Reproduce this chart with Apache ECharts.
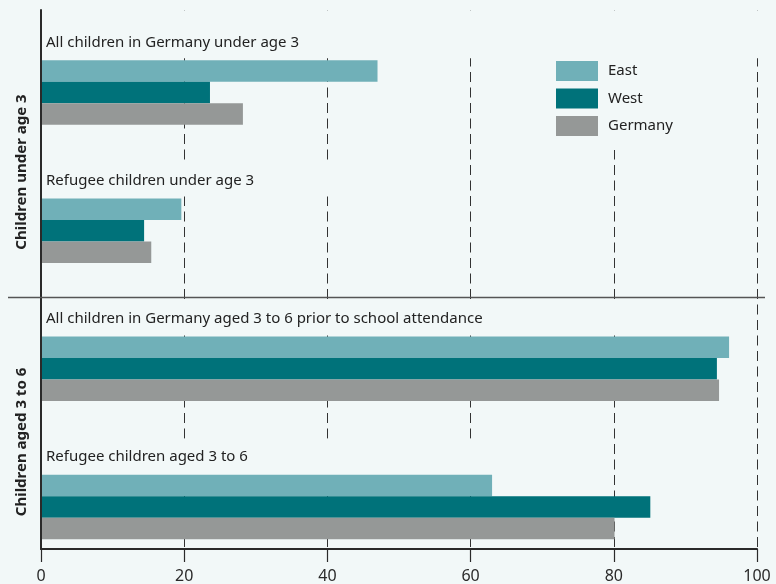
<!DOCTYPE html>
<html>
<head>
<meta charset="utf-8">
<script src="https://cdn.jsdelivr.net/npm/echarts@6/dist/echarts.min.js"></script>
<style>html,body{margin:0;padding:0;background:#f2f8f8;}#c{width:776px;height:584px;}</style>
</head>
<body>
<div id="c"></div>
<script>
// ---- data ----
const categories = [
  'All children in Germany under age 3',
  'Refugee children under age 3',
  'All children in Germany aged 3 to 6 prior to school attendance',
  'Refugee children aged 3 to 6'
];
const panelTitles = ['Children under age 3', 'Children aged 3 to 6'];
const seriesNames = ['East', 'West', 'Germany'];
const eastValues = [47, 19.6, 96.1, 63];
const westValues = [23.6, 14.4, 94.4, 85.1];
const germanyValues = [28.2, 15.4, 94.7, 80.1];
const xTicks = [0, 20, 40, 60, 80, 100];

// ---- styles ----
const BG = '#f2f8f8';
const FONT = '"Noto Sans", "Open Sans", sans-serif';
const colors = ['#70b0b8', '#00727a', '#959897'];
const labelBoxStyle = [
  { padTop: 22, width: 717 },
  { padTop: 8, width: 355 },
  { padTop: 8, width: 645 },
  { padTop: 8, width: 495 }
];

const chart = echarts.init(document.getElementById('c'), null, { renderer: 'canvas' });

const eastData = eastValues.map((v, i) => ({
  value: v,
  label: {
    padding: [labelBoxStyle[i].padTop, 0, 6, 3],
    width: labelBoxStyle[i].width
  }
}));

const allValues = [eastData, westValues, germanyValues];

const series = seriesNames.map((name, k) => ({
  name: name,
  type: 'bar',
  xAxisIndex: 0,
  yAxisIndex: 0,
  barWidth: 21.5,
  barGap: '0%',
  itemStyle: { color: colors[k] },
  emphasis: { disabled: true },
  silent: true,
  data: allValues[k],
  label: k === 0 ? {
    show: true,
    position: [2, -2],
    align: 'left',
    verticalAlign: 'bottom',
    formatter: p => categories[p.dataIndex],
    color: '#222',
    fontFamily: FONT,
    fontSize: 15,
    lineHeight: 20,
    backgroundColor: BG
  } : { show: false }
}));

const xRange = { min: xTicks[0], max: xTicks[xTicks.length - 1], interval: xTicks[1] - xTicks[0] };

chart.setOption({
  backgroundColor: BG,
  animation: false,
  textStyle: { fontFamily: FONT },
  grid: [
    { left: 41, right: 19, top: 23.4, bottom: 7.9 },
    { left: 41, right: 19, top: 10, bottom: 35 },
    { left: 41, right: 19, top: 10, bottom: 35 }
  ],
  xAxis: [
    { gridIndex: 0, type: 'value', min: 0, max: 100, show: false },
    // dashed grid lines (beneath labels / legend)
    {
      gridIndex: 1, type: 'value', z: 0, ...xRange,
      axisLine: { show: false }, axisTick: { show: false }, axisLabel: { show: false },
      splitLine: { show: true, lineStyle: { color: '#333', width: 1, type: [10, 5.5] } }
    },
    // axis line, ticks, labels (above bars)
    {
      gridIndex: 2, type: 'value', z: 5, ...xRange,
      axisLine: { show: true, onZero: false, lineStyle: { color: '#2a2a2a', width: 2 } },
      axisTick: { show: true, length: 13, lineStyle: { color: '#2a2a2a', width: 1.2 } },
      axisLabel: { color: '#2a2a2a', fontSize: 16, margin: 19, fontFamily: FONT },
      splitLine: { show: false }
    }
  ],
  yAxis: [
    { gridIndex: 0, type: 'category', data: categories, inverse: true, show: false },
    { gridIndex: 1, type: 'value', min: 0, max: 1, show: false },
    {
      gridIndex: 2, type: 'value', z: 5, min: 0, max: 1,
      axisLine: { show: true, onZero: false, lineStyle: { color: '#2a2a2a', width: 2 } },
      axisTick: { show: false }, axisLabel: { show: false }, splitLine: { show: false }
    }
  ],
  legend: {
    data: seriesNames,
    orient: 'vertical',
    left: 540,
    top: 55,
    padding: [6, 30, 14, 16],
    itemWidth: 42,
    itemHeight: 20,
    itemGap: 7.5,
    icon: 'rect',
    backgroundColor: BG,
    textStyle: { color: '#222', fontSize: 15, fontFamily: FONT, padding: [0, 0, 0, 5] },
    selectedMode: false
  },
  graphic: [
    {
      type: 'line', z: 10,
      shape: { x1: 8, y1: 297.5, x2: 765, y2: 297.5 },
      style: { stroke: '#555', lineWidth: 1.5 }
    },
    {
      type: 'text', x: 22, y: 172, rotation: Math.PI / 2, z: 10,
      style: { text: panelTitles[0], font: 'bold 15px ' + FONT, fill: '#222', align: 'center', verticalAlign: 'middle' }
    },
    {
      type: 'text', x: 22, y: 442, rotation: Math.PI / 2, z: 10,
      style: { text: panelTitles[1], font: 'bold 15px ' + FONT, fill: '#222', align: 'center', verticalAlign: 'middle' }
    }
  ],
  series: series
});
</script>
</body>
</html>
